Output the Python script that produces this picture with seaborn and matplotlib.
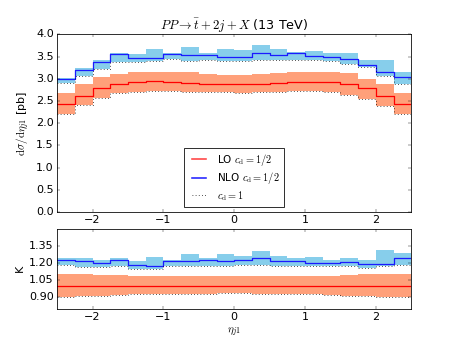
import numpy as np
import pandas as pd
import seaborn as sns
import matplotlib
matplotlib.use("Agg")
import matplotlib.pyplot as plt
from matplotlib.lines import Line2D

# bin edges in eta_j1 (20 bins of 0.25)
edges = np.arange(-2.5, 2.51, 0.25)

# upper panel: dsigma/deta [pb]
lo_half = [2.44, 2.62, 2.79, 2.88, 2.92, 2.95, 2.93, 2.90, 2.89, 2.88,
           2.88, 2.89, 2.90, 2.92, 2.93, 2.92, 2.89, 2.78, 2.62, 2.43]
lo_up = [2.68, 2.89, 3.03, 3.11, 3.15, 3.16, 3.16, 3.14, 3.11, 3.09,
         3.08, 3.10, 3.12, 3.14, 3.16, 3.15, 3.12, 3.00, 2.87, 2.68]
lo_one = [2.21, 2.40, 2.57, 2.67, 2.70, 2.72, 2.72, 2.71, 2.70, 2.70,
          2.68, 2.70, 2.71, 2.72, 2.72, 2.71, 2.64, 2.55, 2.38, 2.21]
nlo_half = [2.99, 3.19, 3.37, 3.55, 3.47, 3.46, 3.56, 3.54, 3.53, 3.49,
            3.50, 3.57, 3.53, 3.57, 3.51, 3.49, 3.44, 3.30, 3.14, 3.03]
nlo_up = [3.02, 3.25, 3.42, 3.57, 3.55, 3.67, 3.59, 3.72, 3.58, 3.66,
          3.65, 3.76, 3.66, 3.61, 3.63, 3.59, 3.58, 3.43, 3.43, 3.14]
nlo_one = [2.90, 3.06, 3.23, 3.38, 3.38, 3.39, 3.45, 3.41, 3.42, 3.41,
           3.41, 3.42, 3.43, 3.43, 3.42, 3.40, 3.34, 3.26, 3.05, 2.89]

# lower panel: K factor
k_lo = [1.0] * 20
k_lo_up = [1.10, 1.10, 1.095, 1.095, 1.09, 1.09, 1.09, 1.085, 1.085, 1.085,
           1.085, 1.085, 1.085, 1.09, 1.09, 1.09, 1.095, 1.10, 1.10, 1.105]
k_lo_one = [0.905, 0.91, 0.915, 0.92, 0.925, 0.925, 0.93, 0.93, 0.93, 0.935,
            0.935, 0.93, 0.93, 0.925, 0.925, 0.92, 0.915, 0.91, 0.905, 0.905]
k_nlo = [1.23, 1.215, 1.20, 1.23, 1.18, 1.175, 1.215, 1.215, 1.225, 1.215,
         1.225, 1.24, 1.215, 1.22, 1.20, 1.20, 1.205, 1.19, 1.195, 1.245]
k_nlo_up = [1.24, 1.24, 1.23, 1.24, 1.22, 1.255, 1.23, 1.28, 1.245, 1.28,
            1.26, 1.305, 1.26, 1.24, 1.25, 1.23, 1.245, 1.23, 1.31, 1.29]
k_nlo_one = [1.18, 1.165, 1.165, 1.17, 1.145, 1.15, 1.17, 1.17, 1.175, 1.17,
             1.18, 1.18, 1.175, 1.175, 1.175, 1.17, 1.175, 1.16, 1.17, 1.18]

plt.style.use("classic")
plt.rcParams["mathtext.fontset"] = "cm"
plt.rcParams["font.size"] = 14

DPI = 57.125
fig = plt.figure(figsize=(457 / DPI, 343 / DPI), facecolor="white")
ax1 = fig.add_axes([0.125, 0.382, 0.775, 0.518])
ax2 = fig.add_axes([0.125, 0.1, 0.775, 0.233])


def step(ax, vals, **kw):
    df = pd.DataFrame({"eta": edges, "val": list(vals) + [vals[-1]]})
    sns.lineplot(data=df, x="eta", y="val", drawstyle="steps-post", ax=ax,
                 legend=False, **kw)


def band(ax, lo, hi, color):
    ax.fill_between(edges, list(lo) + [lo[-1]], list(hi) + [hi[-1]],
                    step="post", color=color, lw=0)


for ax, panel in [(ax1, (lo_half, lo_up, lo_one, nlo_half, nlo_up, nlo_one)),
                  (ax2, (k_lo, k_lo_up, k_lo_one, k_nlo, k_nlo_up, k_nlo_one))]:
    l, lu, l1, n, nu, n1 = panel
    band(ax, l1, lu, "#ffa07a")
    band(ax, n1, nu, "#87ceeb")
    step(ax, l, color="red", lw=1.6)
    step(ax, n, color="#1a1aff", lw=1.6)
    step(ax, l1, color="black", lw=1.0, linestyle=":")
    step(ax, n1, color="black", lw=1.0, linestyle=":")
    ax.set_xlim(-2.5, 2.5)
    ax.set_xticks([-2, -1, 0, 1, 2])
    ax.set_xlabel("")

ax1.set_ylim(0, 4)
ax1.set_yticks(np.arange(0, 4.01, 0.5))
ax1.set_ylabel(r"$\mathrm{d}\sigma/\mathrm{d}\eta_{j1}$ [pb]")
ax1.set_title(r"$PP\rightarrow\bar{t}+2j+X$ (13 TeV)", fontsize=16)
handles = [Line2D([], [], color="#ff4040", lw=2.0),
           Line2D([], [], color="#2020ff", lw=2.0),
           Line2D([], [], color="black", lw=1.0, linestyle=":")]
labels = [r"LO $c_{\rm d}=1/2$", r"NLO $c_{\rm d}=1/2$", r"$c_{\rm d}=1$"]
ax1.legend(handles, labels, loc="lower center", fontsize=13,
           labelspacing=0.25, handlelength=2.0)

ax2.set_ylim(0.8, 1.5)
ax2.set_yticks([0.90, 1.05, 1.20, 1.35])
ax2.set_ylabel("K")
ax2.set_xlabel(r"$\eta_{j1}$")

fig.savefig("out.png", dpi=DPI, facecolor="white")
